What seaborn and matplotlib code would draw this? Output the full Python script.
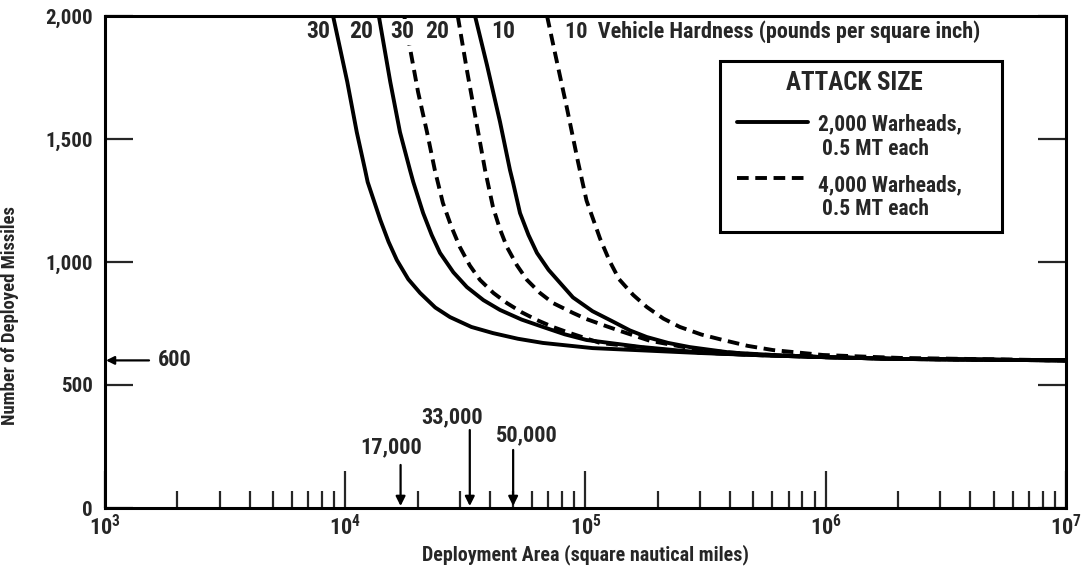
import numpy as np
import pandas as pd
import matplotlib
matplotlib.use("Agg")
import matplotlib.pyplot as plt
import matplotlib.ticker as mticker
from matplotlib.patches import Rectangle
import seaborn as sns
from matplotlib import font_manager

# -----------------------------
# DATA
# -----------------------------
attack_small = "2,000 Warheads"
attack_large = "4,000 Warheads"

# solid curves: 2,000 warheads
s30_area = [8.9e3, 1.02e4, 1.117e4, 1.21e4, 1.24e4, 1.40e4, 1.515e4, 1.64e4, 1.83e4, 2.05e4,
            2.37e4, 2.73e4, 3.35e4, 4.12e4, 5.23e4, 6.65e4, 1.07e5, 3e5, 5e5, 1e6, 2e6, 1e7]
s30_miss = [2000, 1732, 1528, 1374, 1325, 1171, 1082, 1008, 930, 874,
            815, 776, 736, 711, 688, 671, 650, 630, 622, 613, 606, 600]

s20_area = [1.38e4, 1.54e4, 1.69e4, 1.86e4, 1.92e4, 2.11e4, 2.29e4, 2.48e4, 2.82e4, 3.21e4,
            3.76e4, 4.41e4, 5.42e4, 6.65e4, 8.2e4, 1.01e5, 1.69e5, 3e5, 5e5, 1e6, 2e6, 1e7]
s20_miss = [2000, 1732, 1528, 1374, 1325, 1199, 1110, 1037, 958, 898,
            845, 805, 766, 736, 706, 683, 655, 632, 622, 613, 606, 600]

s10_area = [3.47e4, 3.89e4, 4.41e4, 4.85e4, 4.99e4, 5.34e4, 5.79e4, 6.28e4, 7.02e4, 7.84e4,
            8.87e4, 1.07e5, 1.3e5, 1.53e5, 1.80e5, 2.21e5, 2.72e5, 4e5, 6e5, 1e6, 2e6, 1e7]
s10_miss = [2000, 1801, 1569, 1374, 1325, 1199, 1110, 1037, 968, 915,
            856, 800, 758, 722, 695, 671, 654, 632, 622, 613, 606, 600]

# dashed curves: 4,000 warheads
d30_area = [1.76e4, 1.86e4, 2.01e4, 2.19e4, 2.36e4, 2.55e4, 2.77e4, 3.0e4, 3.3e4, 3.64e4,
            4.14e4, 4.71e4, 5.44e4, 6.28e4, 7.36e4, 8.62e4, 1.15e5, 2e5, 3e5, 5e5, 1e6, 2e6, 1e7]
d30_miss = [2000, 1870, 1691, 1528, 1374, 1240, 1142, 1061, 986, 927,
            874, 833, 795, 764, 735, 711, 671, 645, 632, 622, 613, 606, 600]

d20_area = [2.94e4, 3.21e4, 3.47e4, 3.82e4, 4.12e4, 4.4e4, 4.71e4, 5.19e4, 5.71e4, 6.47e4,
            7.33e4, 8.87e4, 1.01e5, 1.23e5, 1.39e5, 1.85e5, 3e5, 5e5, 1e6, 2e6, 1e7]
d20_miss = [2000, 1780, 1598, 1374, 1224, 1135, 1061, 986, 927, 874,
            833, 793, 768, 738, 720, 680, 642, 625, 614, 606, 600]

d10_area = [6.92e4, 7.5e4, 8.37e4, 9.31e4, 1.01e5, 1.15e5, 1.26e5, 1.38e5, 1.58e5, 1.80e5,
            2.11e5, 2.47e5, 3.04e5, 3.73e5, 4.74e5, 6.03e5, 9.74e5, 1.57e6, 2.04e6, 1e7]
d10_miss = [2000, 1841, 1626, 1407, 1250, 1095, 1004, 930, 866, 817,
            770, 736, 705, 683, 659, 642, 622, 614, 610, 600]

curves = [
    ("30", attack_small, s30_area, s30_miss),
    ("20", attack_small, s20_area, s20_miss),
    ("10", attack_small, s10_area, s10_miss),
    ("30", attack_large, d30_area, d30_miss),
    ("20", attack_large, d20_area, d20_miss),
    ("10", attack_large, d10_area, d10_miss),
]

rows = []
for hard, attack, xs, ys in curves:
    for xv, yv in zip(xs, ys):
        rows.append({"area": xv, "missiles": yv, "hardness": hard,
                     "attack": attack, "curve": attack + hard})
df = pd.DataFrame(rows)

# hardness labels along the top
hard_labels = ["30", "20", "30", "20", "10"]
hard_label_x = [7.7e3, 1.17e4, 1.72e4, 2.41e4, 4.54e4]

# marked deployment areas
mark_vals = [17000, 33000, 50000]
mark_text = ["17,000", "33,000", "50,000"]
mark_text_x = [1.55e4, 2.78e4, 5.7e4]
mark_text_y = [248, 370, 297]
mark_arrow_top = [175, 317, 236]

y_ticks = [0, 500, 1000, 1500, 2000]
x_ticks = [1e3, 1e4, 1e5, 1e6, 1e7]

# -----------------------------
# FONT: look for a condensed bold face
# -----------------------------
sns.set_style("white")
pick = None
prefs = ["liberation sans narrow", "roboto condensed", "open sans condensed",
         "dejavu sans condensed", "noto sans condensed"]
cands = []
for f in font_manager.fontManager.ttflist:
    fn = f.fname.lower().replace("-", " ").replace("_", " ")
    if ("condensed" in fn or "narrow" in fn) and "oblique" not in fn and "italic" not in fn:
        w = f.weight if isinstance(f.weight, int) else (700 if "bold" in str(f.weight) else 400)
        if w >= 600 or "bold" in fn:
            rank = len(prefs)
            for i, p in enumerate(prefs):
                if p.replace(" ", "") in fn.replace(" ", ""):
                    rank = i
                    break
            cands.append((rank, f))
if cands:
    cands.sort(key=lambda t: t[0])
    pick = cands[0][1]

if pick is not None:
    fam = [pick.name, "DejaVu Sans"]
    plt.rcParams["font.stretch"] = pick.stretch
    k = 1.0
else:
    fam = ["Liberation Sans", "DejaVu Sans"]
    k = 0.85
plt.rcParams["font.family"] = fam
plt.rcParams["font.weight"] = "bold"
plt.rcParams["mathtext.fontset"] = "custom"
plt.rcParams["mathtext.rm"] = fam[0] + ":bold"
plt.rcParams["mathtext.bf"] = fam[0] + ":bold"
plt.rcParams["mathtext.default"] = "bf"

fig = plt.figure(figsize=(10.81, 5.69), dpi=100)
ax = fig.add_axes([0.0971, 0.1072, 0.889, 0.8647])

DASH = (3.0, 1.7)
sns.lineplot(data=df, x="area", y="missiles", style="attack", units="curve",
             estimator=None, sort=False, color="black", linewidth=2.8,
             dashes={attack_small: "", attack_large: DASH},
             legend=False, ax=ax)
for ln in ax.get_lines():
    ln.set_solid_joinstyle("round")
    ln.set_dash_joinstyle("round")

ax.set_xscale("log")
ax.set_xlim(1e3, 1e7)
ax.set_ylim(0, 2000)

for sp in ax.spines.values():
    sp.set_visible(True)
    sp.set_linewidth(2.2)
    sp.set_color("black")

ax.set_xticks(x_ticks)
ax.set_xticklabels([r"$\mathbf{10^{%d}}$" % int(np.log10(v)) for v in x_ticks], fontsize=16 * k)
ax.xaxis.set_minor_locator(mticker.LogLocator(base=10, subs=np.arange(2, 10)))
ax.xaxis.set_minor_formatter(mticker.NullFormatter())
ax.tick_params(axis="x", which="major", direction="in", length=27, width=1.6,
               top=False, bottom=True, pad=5)
ax.tick_params(axis="x", which="minor", direction="in", length=12, width=1.6,
               top=False, bottom=True)

ax.set_yticks(y_ticks)
ax.yaxis.set_major_formatter(mticker.FuncFormatter(lambda v, p: f"{int(v):,}"))
ax.tick_params(axis="y", which="major", direction="in", length=20, width=1.6,
               left=True, right=True, labelsize=15 * k, pad=9)
for lab in ax.get_yticklabels():
    lab.set_fontweight("bold")

ax.set_xlabel("Deployment Area (square nautical miles)", fontsize=14.4 * k,
              fontweight="bold", labelpad=3)
ax.set_ylabel("Number of Deployed Missiles", fontsize=13.4 * k, fontweight="bold")
ax.yaxis.set_label_coords(-0.0895, 0.392)

# hardness labels
for t, xv in zip(hard_labels, hard_label_x):
    ax.text(xv, 1935, t, ha="center", va="center", fontsize=17 * k, fontweight="bold",
            bbox=dict(facecolor="white", edgecolor="none", pad=1))
ax.text(8.2e4, 1935, "10  Vehicle Hardness (pounds per square inch)", ha="left",
        va="center", fontsize=16 * k, fontweight="bold",
        bbox=dict(facecolor="white", edgecolor="none", pad=1))

# 600 arrow
ax.annotate("600", xy=(1.01e3, 600), xytext=(1.66e3, 600), ha="left", va="center",
            fontsize=16 * k, fontweight="bold",
            arrowprops=dict(arrowstyle="-|>", color="black", lw=1.6,
                            mutation_scale=12, shrinkA=4, shrinkB=0))

# marked areas
for v, t, tx, ty, top in zip(mark_vals, mark_text, mark_text_x, mark_text_y, mark_arrow_top):
    ax.text(tx, ty, t, ha="center", va="center", fontsize=16 * k, fontweight="bold")
    ax.annotate("", xy=(v, 8), xytext=(v, top),
                arrowprops=dict(arrowstyle="-|>", color="black", lw=1.6,
                                mutation_scale=14, shrinkA=0, shrinkB=0))

# legend box, drawn by hand so the key line sits beside the first text line
T = ax.transAxes
ax.add_patch(Rectangle((0.640, 0.561), 0.293, 0.3475, transform=T, facecolor="white",
                       edgecolor="black", lw=2.2, zorder=5))
ax.text(0.780, 0.864, "ATTACK SIZE", transform=T, ha="center", va="center",
        fontsize=18 * k, fontweight="bold", zorder=6)
ax.plot([0.658, 0.7315], [0.785, 0.785], transform=T, color="black", lw=2.8, zorder=6)
ax.plot([0.658, 0.7315], [0.671, 0.671], transform=T, color="black", lw=2.8,
        dashes=DASH, zorder=6)
for yy, t in zip([0.779, 0.730, 0.656, 0.607],
                 [attack_small + ",", "0.5 MT each", attack_large + ",", "0.5 MT each"]):
    xx = 0.742 if t.endswith(",") else 0.746
    ax.text(xx, yy, t, transform=T, ha="left", va="center", fontsize=15.5 * k,
            fontweight="bold", zorder=6)

fig.savefig("out.png", dpi=100)
print("Saved out.png")
